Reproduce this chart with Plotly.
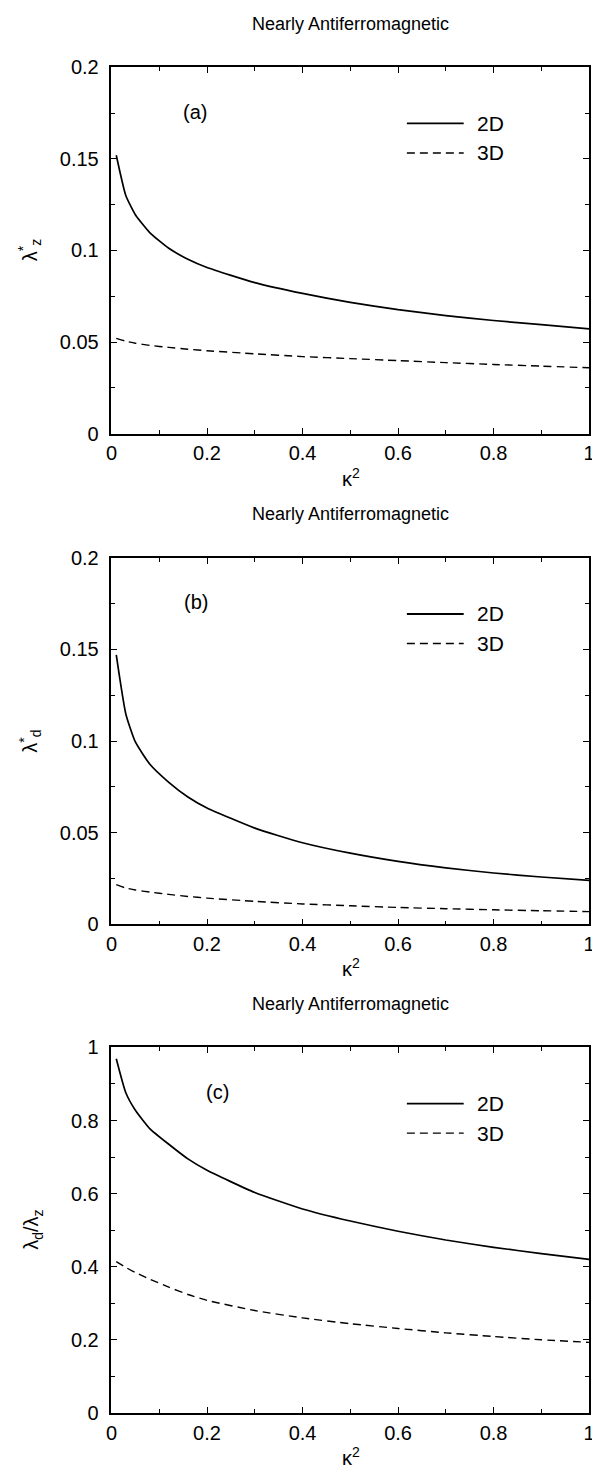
import plotly.graph_objects as go

# ---- data ----
kappa2 = [0.01, 0.03, 0.05, 0.08, 0.12, 0.16, 0.2, 0.3, 0.4, 0.5, 0.6, 0.7, 0.8, 0.9, 1.0]

lz_2d = [0.152, 0.130, 0.1195, 0.1098, 0.1012, 0.0952, 0.0907, 0.0825, 0.0766, 0.0717, 0.0677, 0.0645, 0.0618, 0.0595, 0.0572]
lz_3d = [0.052, 0.0505, 0.0494, 0.0482, 0.0471, 0.0461, 0.0453, 0.0436, 0.0421, 0.0410, 0.0399, 0.0388, 0.0378, 0.0369, 0.0360]

ld_2d = [0.147, 0.1148, 0.0995, 0.0875, 0.0775, 0.0695, 0.0635, 0.0525, 0.0445, 0.0388, 0.0343, 0.0308, 0.0280, 0.0258, 0.0240]
ld_3d = [0.0216, 0.0198, 0.0187, 0.0176, 0.0163, 0.0152, 0.0143, 0.0125, 0.0111, 0.0101, 0.0092, 0.0085, 0.0079, 0.0074, 0.0069]

ratio_2d = [0.969, 0.876, 0.828, 0.778, 0.735, 0.695, 0.664, 0.603, 0.558, 0.525, 0.497, 0.473, 0.453, 0.436, 0.420]
ratio_3d = [0.414, 0.398, 0.384, 0.366, 0.344, 0.324, 0.308, 0.280, 0.260, 0.244, 0.231, 0.219, 0.209, 0.200, 0.193]

series_names = ["2D", "3D"]
panel_tags = ["(a)", "(b)", "(c)"]
panel_title = "Nearly Antiferromagnetic"
x_title = "κ<sup>2</sup>"
y_titles = ["λ<sup>*</sup><sub>z</sub>", "λ<sup>*</sup><sub>d</sub>", "λ<sub>d</sub>/λ<sub>z</sub>"]
y_ranges = [[0, 0.2], [0, 0.2], [0, 1]]
y_dticks = [0.05, 0.05, 0.2]
x_tickvals = [0, 0.2, 0.4, 0.6, 0.8, 1]

panels = [(lz_2d, lz_3d), (ld_2d, ld_3d), (ratio_2d, ratio_3d)]

# ---- layout geometry (page pixels; the page body adds an 8px margin) ----
OFF = 8
W, H = 600 - OFF, 1482 - OFF
left_pg, right_pg = 107.5, 595
tops_pg = [57, 555, 1052]
bottoms_pg = [429, 927, 1423]
FONT = "Liberation Sans, Arial, Helvetica, sans-serif"


def px(xp):
    return (xp - OFF) / W


def py(yp):
    return 1 - (yp - OFF) / H


fig = go.Figure()
annotations = []
shapes = []
pw = right_pg - left_pg

for i, ((s2, s3), tag, yt, yr, ydt) in enumerate(zip(panels, panel_tags, y_titles, y_ranges, y_dticks)):
    n = "" if i == 0 else str(i + 1)
    xa, ya = "x" + n, "y" + n
    top, bot = tops_pg[i], bottoms_pg[i]
    ph = bot - top
    fig.add_trace(go.Scatter(x=kappa2, y=s2, mode="lines", name=series_names[0],
                             line=dict(color="black", width=1.7, shape="spline", smoothing=0.5),
                             xaxis=xa, yaxis=ya, showlegend=False))
    fig.add_trace(go.Scatter(x=kappa2, y=s3, mode="lines", name=series_names[1],
                             line=dict(color="black", width=1.4, dash="8px,5px",
                                       shape="spline", smoothing=0.5),
                             xaxis=xa, yaxis=ya, showlegend=False))

    common = dict(showline=True, linecolor="black", linewidth=1.5, mirror="ticks",
                  ticks="inside", ticklen=6, tickwidth=1.2, tickcolor="black",
                  showgrid=False, zeroline=False, ticklabeloverflow="allow",
                  tickfont=dict(family=FONT, size=20, color="black"))
    fig.update_layout(**{
        "xaxis" + n: dict(domain=[px(left_pg), px(right_pg)], range=[0, 1],
                          tickvals=x_tickvals, anchor=ya,
                          minor=dict(dtick=0.1, tick0=0, ticks="inside", ticklen=4,
                                     tickwidth=1.2, tickcolor="black", showgrid=False),
                          ticklabelstandoff=1, **common),
        "yaxis" + n: dict(domain=[py(bot), py(top)], range=yr, dtick=ydt, tick0=0, anchor=xa,
                          minor=dict(dtick=ydt / 2, tick0=0, ticks="inside", ticklen=4,
                                     tickwidth=1.2, tickcolor="black", showgrid=False),
                          ticklabelstandoff=7, **common),
    })

    # panel title
    annotations.append(dict(text=panel_title, x=px(351), y=py(top - 44),
                            xref="paper", yref="paper", showarrow=False,
                            xanchor="center", yanchor="middle",
                            font=dict(family=FONT, size=18, color="black")))
    # x title
    annotations.append(dict(text=x_title, x=px(352), y=py(bot + 44),
                            xref="paper", yref="paper", showarrow=False,
                            xanchor="center", yanchor="middle",
                            font=dict(family=FONT, size=20, color="black")))
    # y title
    ytx = 24 if i < 2 else 27
    annotations.append(dict(text=yt, x=px(ytx), y=py((top + bot) / 2),
                            xref="paper", yref="paper", showarrow=False, textangle=-90,
                            xanchor="center", yanchor="middle",
                            font=dict(family=FONT, size=20, color="black")))
    # panel tag
    tagx = [193, 194, 216][i]
    annotations.append(dict(text=tag, x=(tagx - left_pg) / pw, y=1 - 45 / ph,
                            xref=xa + " domain", yref=ya + " domain", showarrow=False,
                            xanchor="center", yanchor="middle",
                            font=dict(family=FONT, size=20, color="black")))
    # legend keys
    for j, (nm, yfrac) in enumerate(zip(series_names, [1 - 57 / ph, 1 - 87 / ph])):
        shapes.append(dict(type="line", xref=xa + " domain", yref=ya + " domain",
                           x0=(409 - left_pg) / pw, x1=(467 - left_pg) / pw,
                           y0=yfrac, y1=yfrac,
                           line=dict(color="black", width=1.8 if j == 0 else 1.4,
                                     dash="solid" if j == 0 else "8px,5px")))
        annotations.append(dict(text=nm, x=(479 - left_pg) / pw, y=yfrac,
                                xref=xa + " domain", yref=ya + " domain", showarrow=False,
                                xanchor="left", yanchor="middle",
                                font=dict(family=FONT, size=21, color="black")))

fig.update_layout(width=W, height=H, margin=dict(l=0, r=0, t=0, b=0),
                  paper_bgcolor="white", plot_bgcolor="white",
                  annotations=annotations, shapes=shapes, showlegend=False,
                  font=dict(family=FONT, color="black"))

fig.write_html("out.html")
